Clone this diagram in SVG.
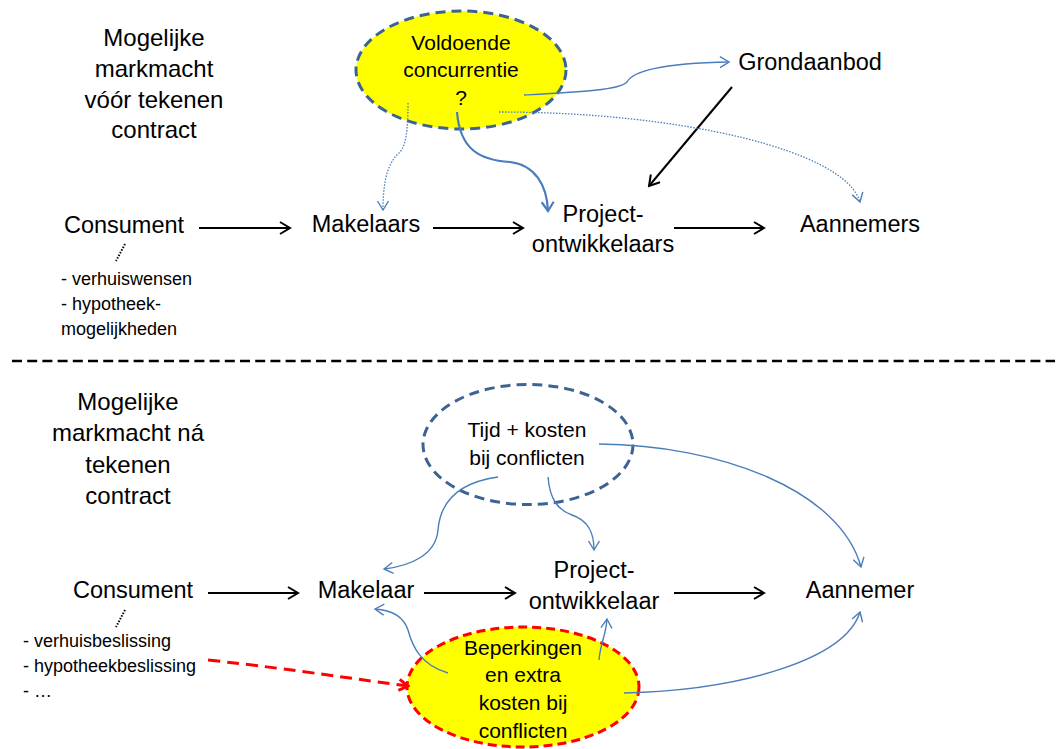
<svg xmlns="http://www.w3.org/2000/svg" width="1059" height="749" viewBox="0 0 1059 749">
<style>
text { font-family: "Liberation Sans", Arial, sans-serif; fill: #000; }
.lbl { font-size: 23.5px; text-anchor: middle; }
.ttl { font-size: 24px; text-anchor: middle; }
.ell { font-size: 21px; text-anchor: middle; }
.lst { font-size: 18px; }
.blk { stroke: #000; stroke-width: 2; fill: none; }
.blu { stroke: #4a7ebb; stroke-width: 1.4; fill: none; }
.bluT { stroke: #4a7ebb; stroke-width: 2.2; fill: none; }
.dot { stroke: #4a7ebb; stroke-width: 1.3; fill: none; stroke-dasharray: 1.5 1.5; }
</style>
<defs>
<marker id="aBlk" markerUnits="userSpaceOnUse" viewBox="0 0 14 14" refX="12" refY="7" markerWidth="14" markerHeight="14" orient="auto">
<path d="M2,1 L12,7 L2,13" fill="none" stroke="#000" stroke-width="2"/>
</marker>
<marker id="aBlu" markerUnits="userSpaceOnUse" viewBox="0 0 14 14" refX="12" refY="7" markerWidth="14" markerHeight="14" orient="auto">
<path d="M3,1.5 L12,7 L3,12.5" fill="none" stroke="#4a7ebb" stroke-width="1.4"/>
</marker>
<marker id="aBluT" markerUnits="userSpaceOnUse" viewBox="0 0 14 14" refX="12" refY="7" markerWidth="14" markerHeight="14" orient="auto">
<path d="M3,1 L12,7 L3,13" fill="none" stroke="#4a7ebb" stroke-width="2.2"/>
</marker>
<marker id="aRed" markerUnits="userSpaceOnUse" viewBox="0 0 14 14" refX="12" refY="7" markerWidth="14" markerHeight="14" orient="auto">
<path d="M3,1.5 L12,7 L3,12.5" fill="none" stroke="#ff0000" stroke-width="3"/>
</marker>
</defs>
<rect width="1059" height="749" fill="#fff"/>

<!-- separator -->
<line x1="12" y1="361" x2="1055" y2="361" stroke="#000" stroke-width="2.5" stroke-dasharray="10 5.2"/>

<!-- top section -->
<g id="title-top">
<text class="ttl" x="154" y="46">Mogelijke</text>
<text class="ttl" x="154" y="77">markmacht</text>
<text class="ttl" x="154" y="108">vóór tekenen</text>
<text class="ttl" x="154" y="138">contract</text>
</g>
<g id="concurrentie">
<ellipse cx="461" cy="70" rx="105" ry="59" fill="#ffff00" stroke="#3d6491" stroke-width="3" stroke-dasharray="10 6"/>
<text class="ell" x="461" y="50">Voldoende</text>
<text class="ell" x="461" y="77">concurrentie</text>
<text class="ell" x="461" y="105">?</text>
</g>
<g id="grondaanbod"><text class="lbl" x="810" y="70">Grondaanbod</text></g>
<g id="consument-top">
<text class="lbl" x="124" y="233">Consument</text>
<text class="lst" x="61" y="285">- verhuiswensen</text>
<text class="lst" x="61" y="310">- hypotheek-</text>
<text class="lst" x="61" y="335">mogelijkheden</text>
</g>
<g id="makelaars"><text class="lbl" x="366" y="232">Makelaars</text></g>
<g id="projectontwikkelaars">
<text class="lbl" x="603" y="222">Project-</text>
<text class="lbl" x="603" y="252">ontwikkelaars</text>
</g>
<g id="aannemers"><text class="lbl" x="860" y="232">Aannemers</text></g>

<!-- bottom section -->
<g id="title-bottom">
<text class="ttl" x="128" y="410">Mogelijke</text>
<text class="ttl" x="128" y="441">markmacht ná</text>
<text class="ttl" x="128" y="473">tekenen</text>
<text class="ttl" x="128" y="504">contract</text>
</g>
<g id="tijd-kosten">
<ellipse cx="528" cy="444.5" rx="105" ry="60" fill="#fff" stroke="#3d6491" stroke-width="3" stroke-dasharray="10 6"/>
<text class="ell" x="527" y="437">Tijd + kosten</text>
<text class="ell" x="527" y="465">bij conflicten</text>
</g>
<g id="beperkingen">
<ellipse cx="523" cy="687" rx="116" ry="60" fill="#ffff00" stroke="#ff0000" stroke-width="3" stroke-dasharray="9 5"/>
<text class="ell" x="523" y="655">Beperkingen</text>
<text class="ell" x="523" y="682">en extra</text>
<text class="ell" x="523" y="710">kosten bij</text>
<text class="ell" x="523" y="738">conflicten</text>
</g>
<g id="consument-bottom">
<text class="lbl" x="133" y="598">Consument</text>
<text class="lst" x="23" y="647">- verhuisbeslissing</text>
<text class="lst" x="23" y="672">- hypotheekbeslissing</text>
<text class="lst" x="23" y="697">- …</text>
</g>
<g id="makelaar"><text class="lbl" x="366" y="598">Makelaar</text></g>
<g id="projectontwikkelaar">
<text class="lbl" x="594" y="578">Project-</text>
<text class="lbl" x="594" y="609">ontwikkelaar</text>
</g>
<g id="aannemer"><text class="lbl" x="860" y="598">Aannemer</text></g>

<g id="connectors">
<!-- top -->
<line class="blk" x1="199" y1="228" x2="290" y2="228" marker-end="url(#aBlk)"/>
<line class="blk" x1="433" y1="228" x2="523" y2="228" marker-end="url(#aBlk)"/>
<line class="blk" x1="674" y1="228" x2="764" y2="228" marker-end="url(#aBlk)"/>
<line class="blk" x1="732" y1="87" x2="649" y2="186" marker-end="url(#aBlk)"/>
<path class="blu" d="M524,95 C580,92 620,90 627,82 C632,72 660,63 729,62" marker-end="url(#aBlu)"/>
<path class="bluT" d="M457,112 C460,150 480,160 510,162 C535,165 547,185 548,211" marker-end="url(#aBluT)"/>
<path class="dot" d="M408,103 C408,130 406,145 400,152 C388,162 383,180 383,210" marker-end="url(#aBlu)"/>
<path class="dot" d="M499,112 C680,112 845,150 860,202" marker-end="url(#aBlu)"/>
<line x1="125" y1="244" x2="116" y2="261" stroke="#000" stroke-width="2" stroke-dasharray="1.5 1.5"/>
<!-- bottom -->
<line class="blk" x1="208" y1="593" x2="298" y2="593" marker-end="url(#aBlk)"/>
<line class="blk" x1="424" y1="593" x2="515" y2="593" marker-end="url(#aBlk)"/>
<line class="blk" x1="674" y1="593" x2="764" y2="593" marker-end="url(#aBlk)"/>
<path class="blu" d="M498,477 C455,483 440,505 438,530 C436,555 410,566 384,569" marker-end="url(#aBlu)"/>
<path class="blu" d="M548,477 C550,500 558,510 572,515 C590,521 594,535 594,550" marker-end="url(#aBlu)"/>
<path class="blu" d="M599,444 C720,445 840,490 861,567" marker-end="url(#aBlu)"/>
<path class="blu" d="M448,673 C420,665 412,645 408,630 C403,615 390,610 375,609" marker-end="url(#aBlu)"/>
<path class="blu" d="M599,660 C600,645 606,635 607,619" marker-end="url(#aBlu)"/>
<path class="blu" d="M624,693 C740,690 845,660 860,612" marker-end="url(#aBlu)"/>
<path d="M208,660 C300,670 360,680 408,686" fill="none" stroke="#ff0000" stroke-width="3" stroke-dasharray="12 7" marker-end="url(#aRed)"/>
<line x1="125" y1="610" x2="116" y2="627" stroke="#000" stroke-width="2" stroke-dasharray="1.5 1.5"/>
</g>
</svg>
